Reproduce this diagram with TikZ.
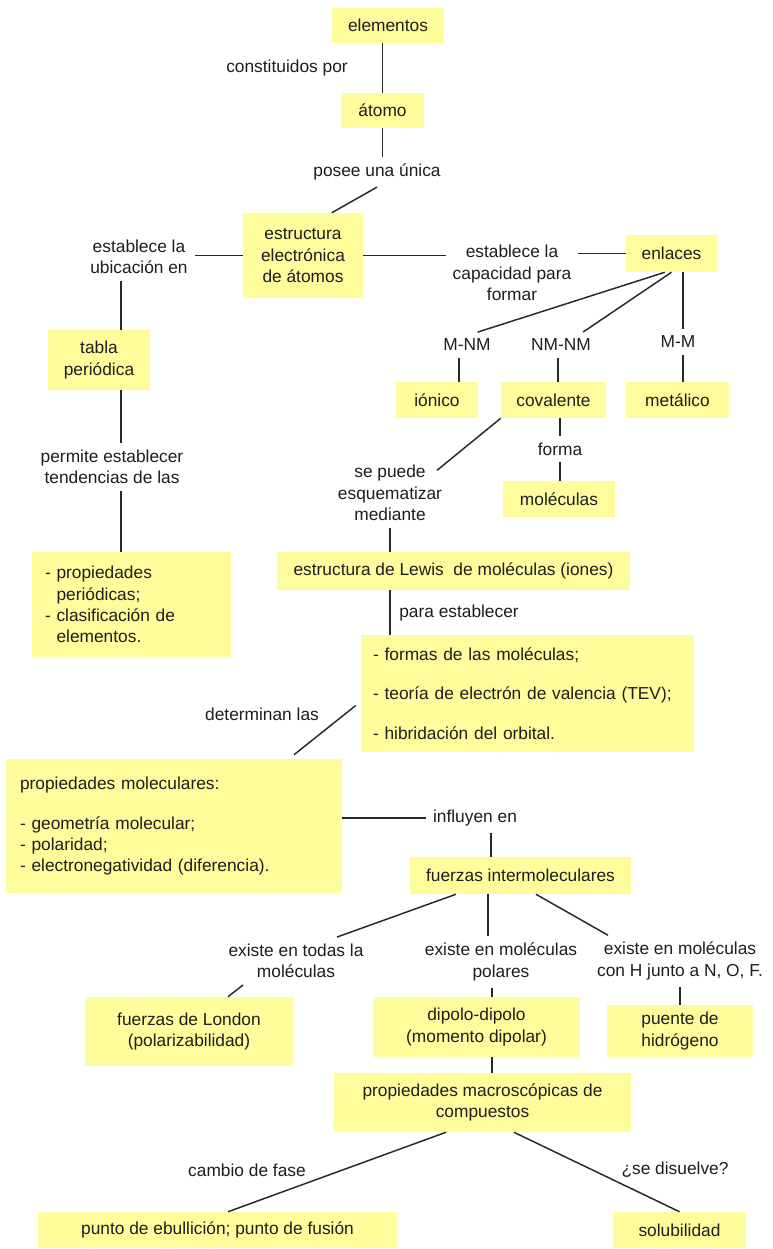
\documentclass[tikz,border=0pt]{standalone}
\usepackage{fontspec}
\setmainfont{Liberation Sans}
\usepackage{tikz}
\usetikzlibrary{positioning}
\definecolor{cmyellow}{RGB}{255,253,155}
\definecolor{cmline}{RGB}{40,40,40}
\definecolor{cmtext}{RGB}{30,30,30}

\begin{document}
\begin{tikzpicture}[x=0.75pt, y=-0.75pt,
  every node/.style={font=\fontsize{13}{16}\selectfont, text=cmtext},
  box/.style={fill=cmyellow, inner sep=0pt, align=center},
  listbox/.style={box, align=left},
  lbl/.style={inner sep=5pt, align=center},
  link/.style={draw=cmline, line width=1.1pt}]

  \useasboundingbox (0,0) rectangle (772,1249);
  \fill[white] (0,0) rectangle (772,1249);

  %% Boxes
  \node[box, minimum width=84pt, minimum height=26.25pt]    (elem)   at (388,25.5)   {elementos};
  \node[box, minimum width=62.25pt, minimum height=26.25pt] (atomo)  at (382.5,110.5) {átomo};
  \node[box, minimum width=90pt, minimum height=63.75pt]    (estr)   at (303,255.5)  {estructura\\electrónica\\de átomos};
  \node[box, minimum width=68.25pt, minimum height=27.75pt] (enl)    at (671.5,253.5) {enlaces};
  \node[box, minimum width=76.5pt, minimum height=45pt]     (tabla)  at (99,360)     {tabla\\periódica};
  \node[box, minimum width=61.5pt, minimum height=27pt]     (ionico) at (437,400)    {iónico};
  \node[box, minimum width=78.75pt, minimum height=27pt]    (coval)  at (553.5,400)  {covalente};
  \node[box, minimum width=77.25pt, minimum height=27pt]    (metal)  at (677.5,400)  {metálico};
  \node[box, minimum width=84pt, minimum height=27pt]       (molec)  at (559,499)    {moléculas};
  \node[listbox, text width=129.75pt, inner xsep=9.75pt, minimum height=78.75pt] (propper) at (131.5,604.5)
    {- propiedades\\\hphantom{- }periódicas;\\- clasificación de\\\hphantom{- }elementos.};
  \node[box, minimum width=264.75pt, minimum height=28.5pt] (lewis)  at (453.5,571)  {estructura de Lewis\ \ de moléculas (iones)};
  \node[listbox, text width=231.75pt, inner xsep=9pt, minimum height=87.75pt] (formas) at (527.5,693.5)
    {- formas de las moléculas;\\[13.6pt]- teoría de electrón de valencia (TEV);\\[13.6pt]- hibridación del orbital.};
  \node[listbox, text width=231pt, inner xsep=10.5pt, minimum height=100.5pt] (propmol) at (174,826)
    {propiedades moleculares:\\[14pt]- geometría molecular;\\- polaridad;\\- electronegatividad (diferencia).};
  \node[box, minimum width=165.75pt, minimum height=27.75pt] (fuerzas) at (520.5,875.5) {fuerzas intermoleculares};
  \node[box, minimum width=156pt, minimum height=51.75pt]    (london)  at (189,1031.5)  {fuerzas de London\\(polarizabilidad)};
  \node[box, minimum width=155.25pt, minimum height=45pt]    (dipolo)  at (476.5,1027)  {dipolo-dipolo\\(momento dipolar)};
  \node[box, minimum width=109.5pt, minimum height=39pt]     (puente)  at (680,1031)    {puente de\\hidrógeno};
  \node[box, minimum width=222.75pt, minimum height=44.25pt] (macro)   at (482.5,1102.5) {propiedades macroscópicas de\\compuestos};
  \node[box, minimum width=269.25pt, minimum height=27pt]    (ebull)   at (217.5,1230)  {punto de ebullición; punto de fusión};
  \node[box, minimum width=99.75pt, minimum height=27pt]     (solub)   at (679.5,1230)  {solubilidad};

  %% Linking words
  \node[lbl] (const)   at (287,68)   {constituidos por};
  \node[lbl] (posee)   at (377,172)  {posee una única};
  \node[lbl] (ubic)    at (139,257)  {establece la\\ubicación en};
  \node[lbl] (capac)   at (512,273)  {establece la\\capacidad para\\formar};
  \node[lbl] (mnm)     at (467,345)  {M-NM};
  \node[lbl] (nmnm)    at (561,345)  {NM-NM};
  \node[lbl] (mm)      at (678,342)  {M-M};
  \node[lbl] (forma)   at (560,449)  {forma};
  \node[lbl] (permite) at (112,467)  {permite establecer\\tendencias de las};
  \node[lbl] (sepuede) at (390,493)  {se puede\\esquematizar\\mediante};
  \node[lbl] (para)    at (459,613)  {para establecer};
  \node[lbl] (determ)  at (262,714)  {determinan las};
  \node[lbl] (influ)   at (475,818)  {influyen en};
  \node[lbl] (todas)   at (296,961)  {existe en todas la\\moléculas};
  \node[lbl] (polares) at (501,962)  {existe en moléculas\\polares};
  \node[lbl] (conH)    at (680,961)  {existe en moléculas\\con H junto a N, O, F.};
  \node[lbl] (cambio)  at (247,1170) {cambio de fase};
  \node[lbl] (disuel)  at (675,1170) {¿se disuelve?};

  %% Connectors
  \draw[link] (elem.south -| atomo.north) -- (atomo.north);
  \draw[link] (atomo.south) -- (atomo.south |- posee.north);
  \draw[link] (posee.south) -- (estr.56);
  \draw[link] (estr.west) -- (estr.west -| ubic.east);
  \draw[link] ([xshift=16.5pt]tabla.north) -- ([xshift=16.5pt]tabla.north |- ubic.south);
  \draw[link] ([xshift=16.5pt]tabla.south) -- ([xshift=16.5pt]tabla.south |- permite.north);
  \draw[link] ([xshift=-8pt]propper.north) -- ([xshift=-8pt]propper.north |- permite.south);
  \draw[link] (estr.east) -- (estr.east -| capac.west);
  \draw[link] (enl.west) -- (enl.west -| capac.east);
  \draw[link] ([xshift=-5pt]enl.south) -- ([xshift=8pt]mnm.north);
  \draw[link] (enl.south) -- ([xshift=16.5pt]nmnm.north);
  \draw[link] ([xshift=4pt]metal.north |- enl.south) -- ([xshift=4pt]metal.north |- mm.north);
  \draw[link] ([xshift=16.5pt]ionico.north) -- ([xshift=16.5pt]ionico.north |- mnm.south);
  \draw[link] ([xshift=3.4pt]coval.north) -- ([xshift=3.4pt]coval.north |- nmnm.south);
  \draw[link] ([xshift=4pt]metal.north) -- ([xshift=4pt]metal.north |- mm.south);
  \draw[link] (forma.north) -- (forma.north |- coval.south);
  \draw[link] (forma.south) -- (forma.south |- molec.north);
  \draw[link] (coval.south west) -- ([xshift=-9pt, yshift=-9pt]sepuede.north east);
  \draw[link] (sepuede.south) -- (sepuede.south |- lewis.north);
  \draw[link] (sepuede.south |- lewis.south) -- (sepuede.south |- formas.north);
  \draw[link] ([xshift=-3.75pt, yshift=-9pt]formas.west) -- ([xshift=90pt, yshift=3pt]propmol.north);
  \draw[link] (influ.west) -- (influ.west -| propmol.east);
  \draw[link] ([xshift=-22pt]fuerzas.north) -- ([xshift=-22pt]fuerzas.north |- influ.south);
  \draw[link] ([xshift=-48.4pt]fuerzas.south) -- ([xshift=30.75pt]todas.north);
  \draw[link] ([xshift=-24.4pt]fuerzas.south) -- ([xshift=-24.4pt]fuerzas.south |- polares.north);
  \draw[link] ([xshift=11.6pt]fuerzas.south) -- ([xshift=-54pt]conH.north);
  \draw[link] ([xshift=-39.75pt]todas.south) -- ([xshift=29.25pt]london.north);
  \draw[link] ([xshift=11.6pt]dipolo.north) -- ([xshift=11.6pt]dipolo.north |- polares.south);
  \draw[link] (puente.north) -- (puente.north |- conH.south);
  \draw[link] ([xshift=11.6pt]dipolo.south) -- ([xshift=11.6pt]dipolo.south |- macro.north);
  \draw[link] ([xshift=-27.4pt]macro.south) -- ([xshift=7.9pt]ebull.north);
  \draw[link] ([xshift=23.6pt]macro.south) -- (solub.north);
\end{tikzpicture}
\end{document}
